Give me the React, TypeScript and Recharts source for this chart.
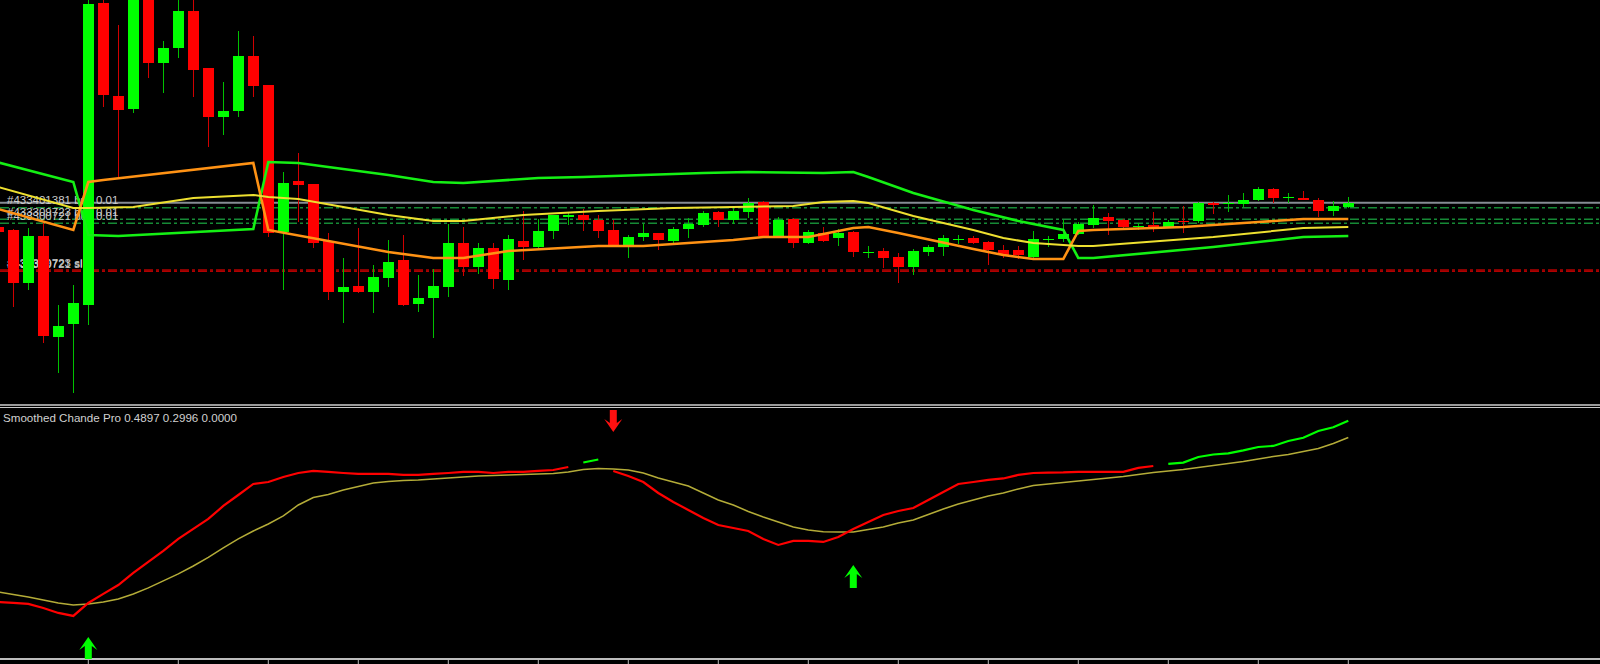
import React from "react";
import { ComposedChart, Bar, Line, XAxis, YAxis, ReferenceLine, Scatter } from "recharts";

// ---------- bars (index -1 is the partly visible first bar) ----------
const barIndex: number[] = Array.from({ length: 91 }, (_, n) => n - 1);

// prices in points
const opens = [
  178, 175, 122, 169, 68, 81, 100, 402, 309, 296, 415, 342, 357, 394, 337, 288, 294, 349, 320, 173,
  224, 221, 164, 113, 119, 113, 127, 145, 101, 107, 118, 162, 138, 157, 125, 164, 158, 174, 188, 190,
  185, 175, 160, 168, 172, 164, 176, 180, 193, 185, 193, 203, 169, 186, 162, 172, 167, 173, 152.5, 154,
  148, 138, 153, 158, 165.5, 167, 163, 155, 155, 148, 165.5, 166, 171, 180, 188, 185, 178.5, 180, 178, 184.5,
  184, 202, 201.5, 201, 205, 216, 207.5, 207, 205, 194, 198,
];
const highs = [
  180, 176, 177, 182, 100, 120, 408, 410, 380, 420, 420, 364, 405, 407, 337, 323, 374, 369, 320, 233,
  252, 221, 172, 147, 177, 140, 165, 170, 130, 136, 181, 178, 162, 162, 170, 194, 186, 190, 192, 196,
  190, 185, 170, 181, 172, 178, 187, 194, 194, 197, 207, 204, 188, 187, 175, 178, 176, 174, 159, 157,
  152, 156, 160, 170, 170, 169, 164, 160, 159, 174, 169, 185, 183, 200, 192, 186, 182, 193, 185, 199,
  203, 203, 210, 212, 218, 217, 212, 214, 207, 204, 208,
];
const lows = [
  170, 98, 115, 62, 32, 12, 80, 298, 228, 292, 327, 312, 347, 308, 258, 270, 288, 308, 168, 115,
  183, 157, 105, 82, 112, 92, 118, 99, 93, 67, 108, 129, 131, 116, 115, 145, 157, 166, 180, 174,
  167, 160, 147, 164, 155, 162, 167, 178, 178, 181, 187, 168, 168, 157, 161, 163, 159, 148, 147, 137,
  122, 130, 149, 149, 161, 161, 140, 147, 146, 146, 158, 163, 170, 177, 170, 177, 175, 173, 177, 172,
  182, 191, 193, 198, 204, 202, 202, 205, 188, 189, 197,
];
const closes = [
  173, 122, 169, 69, 79, 102, 401, 310, 295, 415, 342, 357, 394, 335, 288, 294, 349, 319, 172, 222,
  220, 162, 113, 118, 113, 128, 143, 100, 107, 119, 162, 138, 157, 126, 166, 158, 174, 190, 190, 185,
  174, 160, 168, 172, 165, 176, 181, 192, 185, 194, 202, 169, 185, 162, 173, 164, 172, 153, 153.5, 147,
  138, 154, 158, 167, 166.5, 162, 155, 150, 150, 166, 166.5, 171, 181, 187, 184, 178, 179.5, 177, 183, 183.5,
  202, 200, 202.5, 205, 216, 207, 208.5, 205, 194, 199, 202,
];

// channel lines: [bar, price]
const upperBand: [number, number][] = [
  [-1, 242.5], [4, 223], [5, 170], [7, 169], [16, 176], [17, 243], [19, 242], [25, 230], [28, 223], [30, 222],
  [35, 227], [38, 228], [44, 231], [46, 232], [49, 233], [54, 232], [56, 233], [57, 228], [60, 212], [64, 195],
  [67, 184], [70, 175], [71, 147], [72, 147], [80, 158], [86, 168], [89, 169],
];
const middleBand: [number, number][] = [
  [-1, 218], [4, 197], [5, 197], [8, 198], [12, 207], [16, 210], [17, 208], [19, 206], [25, 190], [28, 184],
  [30, 184], [34, 190], [39, 194], [44, 197], [48, 198], [52, 199], [54, 203], [56, 204], [57, 202], [60, 189],
  [64, 175], [66, 167], [68, 162], [70, 160], [71, 159], [72, 159], [80, 168], [86, 177], [89, 178],
];
const lowerBand: [number, number][] = [
  [-1, 196], [4, 175], [5, 223], [6, 225], [16, 242], [17, 175], [25, 153], [28, 147], [30, 147], [33, 154],
  [39, 159], [42, 159], [44, 161], [48, 165], [50, 168], [53, 168], [56, 177], [57, 178], [59, 172], [64, 156],
  [66, 150], [68, 146], [70, 146], [71, 174], [72, 175], [78, 178], [83, 183], [86, 186], [89, 186],
];

// horizontal price levels
const bidPrice = 202.3;
const orderLevels = [197.3, 185.7, 181.7];
const orderTickets = ["#433401381 buy 0.01", "#433309723 buy 0.01", "#433300721 buy 0.01"];
const stopLevels = [135, 133.8];
const stopTickets = ["#433309723 sl", "#433300721 sl"];

// ---------- Smoothed Chande indicator ----------
const chandeMain = [
  -1.561, -1.572, -1.583, -1.629, -1.685, -1.719, -1.572, -1.47, -1.369, -1.233, -1.108, -0.984, -0.848, -0.735, -0.622, -0.475,
  -0.351, -0.226, -0.204, -0.147, -0.102, -0.079, -0.09, -0.102, -0.113, -0.113, -0.113, -0.124, -0.124, -0.113, -0.102,
  -0.09, -0.09, -0.102, -0.09, -0.09, -0.079, -0.068, -0.034, 0.017, 0.051, -0.079, -0.136, -0.204, -0.328, -0.43,
  -0.52, -0.611, -0.69, -0.724, -0.758, -0.848, -0.916, -0.871, -0.871, -0.882, -0.826, -0.735, -0.656, -0.577, -0.532,
  -0.498, -0.407, -0.317, -0.226, -0.204, -0.181, -0.164, -0.124, -0.102, -0.098, -0.096, -0.09, -0.09, -0.09, -0.09,
  -0.045, -0.023, 0.0, 0.015, 0.079, 0.107, 0.119, 0.153, 0.192, 0.204, 0.26, 0.297, 0.373, 0.415, 0.4897,
];
const chandeSignal = [
  -1.448, -1.476, -1.504, -1.538, -1.572, -1.595, -1.583, -1.561, -1.527, -1.47, -1.402, -1.323, -1.244, -1.154, -1.057, -0.95,
  -0.848, -0.758, -0.679, -0.588, -0.464, -0.379, -0.345, -0.294, -0.254, -0.215, -0.198, -0.187, -0.181, -0.17, -0.158,
  -0.147, -0.136, -0.13, -0.124, -0.119, -0.113, -0.107, -0.09, -0.062, -0.051, -0.057, -0.068, -0.102, -0.158, -0.204,
  -0.249, -0.328, -0.407, -0.464, -0.537, -0.599, -0.656, -0.713, -0.746, -0.766, -0.769, -0.769, -0.741, -0.713, -0.667,
  -0.633, -0.571, -0.509, -0.452, -0.407, -0.362, -0.328, -0.283, -0.243, -0.226, -0.209, -0.192, -0.175, -0.158, -0.141,
  -0.119, -0.096, -0.079, -0.062, -0.04, -0.017, 0.006, 0.028, 0.057, 0.085, 0.107, 0.141, 0.175, 0.232, 0.2996,
];
const upSignals: [number, number][] = [[5, -1.957], [56, -1.142]];
const downSignals: [number, number][] = [[40, 0.362]];
const chandeLevel = 0;
const indicatorTitle = "Smoothed Chande Pro";
const indicatorReadout = ["0.4897", "0.2996", "0.0000"];
const timeTicks = [5, 11, 17, 23, 29, 35, 41, 47, 53, 59, 65, 71, 77, 83, 89];

// ---------- tables ----------
const pick = (pairs: [number, number][], i: number) => {
  const f = pairs.find((p) => p[0] === i);
  return f ? f[1] : null;
};
const priceRows = barIndex.map((i, n) => ({
  i,
  o: opens[n],
  h: highs[n],
  l: lows[n],
  c: closes[n],
  range: [lows[n], highs[n]],
  upper: pick(upperBand, i),
  middle: pick(middleBand, i),
  lower: pick(lowerBand, i),
}));
const chandeRows = barIndex.map((i, n) => ({
  i,
  bear: chandeMain[n] < chandeLevel ? chandeMain[n] : null,
  bull: chandeMain[n] >= chandeLevel ? chandeMain[n] : null,
  signal: chandeSignal[n],
}));
const upRows = upSignals.map(([i, v]) => ({ i, v }));
const downRows = downSignals.map(([i, v]) => ({ i, v }));

const X_DOMAIN: [number, number] = [-0.8867, 105.78];
const FONT = "'Liberation Sans', Arial, sans-serif";

function Candle(props: any) {
  const { x, y, width, height, payload } = props;
  if (!payload || !isFinite(x) || !isFinite(y) || !isFinite(height)) return null;
  const { o, h, l, c } = payload;
  const k = height / (h - l);
  const yAt = (v: number) => y + (h - v) * k;
  const bull = c >= o;
  const cx = Math.round(x + width / 2);
  const top = yAt(Math.max(o, c));
  const bottom = yAt(Math.min(o, c));
  return (
    <g>
      <line x1={cx + 0.5} x2={cx + 0.5} y1={y} y2={y + height} stroke={bull ? "#00c000" : "#d00000"} strokeWidth={1} />
      <rect
        x={cx - 5}
        y={Math.round(top)}
        width={11}
        height={Math.max(1, Math.round(bottom) - Math.round(top))}
        fill={bull ? "#00ff00" : "#ff0000"}
        shapeRendering="crispEdges"
      />
    </g>
  );
}

function TicketLabel(props: any) {
  const { viewBox, text } = props;
  if (!viewBox) return null;
  return (
    <text x={7} y={viewBox.y - 3.5} fill="#cccccc" fontSize={11.5} fontFamily={FONT}>
      {text}
    </text>
  );
}

function UpArrow(props: any) {
  const { cx, cy } = props;
  if (!isFinite(cx) || !isFinite(cy)) return null;
  return (
    <path
      transform={`translate(${cx},${cy})`}
      d="M0,0 L9,13 L3.5,9 L3.5,23 L-3.5,23 L-3.5,9 L-9,13 Z"
      fill="#00ff00"
    />
  );
}

function DownArrow(props: any) {
  const { cx, cy } = props;
  if (!isFinite(cx) || !isFinite(cy)) return null;
  return (
    <path
      transform={`translate(${cx},${cy})`}
      d="M0,0 L-9,-13 L-3.5,-9 L-3.5,-22 L3.5,-22 L3.5,-9 L9,-13 Z"
      fill="#ff1010"
    />
  );
}

export default function App() {
  return (
    <div style={{ position: "absolute", left: 0, top: 0, width: 1600, height: 664, background: "#000", overflow: "hidden" }}>
      <div style={{ position: "absolute", left: 0, top: 0 }}>
        <ComposedChart width={1600} height={405} data={priceRows} margin={{ top: 0, right: 0, bottom: 0, left: 0 }}>
          <XAxis dataKey="i" type="number" domain={X_DOMAIN} allowDataOverflow hide />
          <YAxis type="number" domain={[0, 405]} allowDataOverflow hide />
          <ReferenceLine y={bidPrice} stroke="#868c94" strokeWidth={2} zIndex={-60} />
          {orderLevels.map((lv, n) => (
            <ReferenceLine
              key={"o" + n}
              y={lv}
              stroke="#168a36"
              strokeWidth={1.6}
              strokeDasharray="9 3 3 3"
              zIndex={-60}
              label={<TicketLabel text={orderTickets[n]} />}
            />
          ))}
          {stopLevels.map((lv, n) => (
            <ReferenceLine
              key={"s" + n}
              y={lv}
              stroke="#b00000"
              strokeWidth={1.6}
              strokeDasharray="9 3 3 3"
              zIndex={-60}
              label={<TicketLabel text={stopTickets[n]} />}
            />
          ))}
          <Bar dataKey="range" barSize={11} shape={(p: any) => <Candle {...p} />} isAnimationActive={false} />
          <Line type="linear" dataKey="upper" stroke="#14f014" strokeWidth={2.6} dot={false} connectNulls isAnimationActive={false} />
          <Line type="linear" dataKey="lower" stroke="#ff9214" strokeWidth={2.6} dot={false} connectNulls isAnimationActive={false} />
          <Line type="linear" dataKey="middle" stroke="#eee030" strokeWidth={2} dot={false} connectNulls isAnimationActive={false} />
        </ComposedChart>
      </div>

      <div style={{ position: "absolute", left: 0, top: 404, width: 1600, height: 2, background: "#9a9a9a" }} />
      <div style={{ position: "absolute", left: 0, top: 407, width: 1600, height: 1, background: "#c8c8c8" }} />

      <div style={{ position: "absolute", left: 0, top: 408 }}>
        <ComposedChart width={1600} height={256} data={chandeRows} margin={{ top: 0, right: 0, bottom: 0, left: 0 }}>
          <XAxis
            dataKey="i"
            type="number"
            domain={X_DOMAIN}
            allowDataOverflow
            ticks={timeTicks}
            interval={0}
            height={5}
            tickSize={5}
            tick={{ fill: "none", fontSize: 1 }}
            tickFormatter={() => ""}
            axisLine={{ stroke: "#bcbcbc", strokeWidth: 2 }}
            tickLine={{ stroke: "#bcbcbc" }}
          />
          <YAxis type="number" domain={[-2.206, 0.633]} allowDataOverflow hide />
          <ReferenceLine
            segment={[
              { x: -1, y: chandeLevel },
              { x: 89, y: chandeLevel },
            ]}
            stroke="#c8c8c8"
            strokeDasharray="3 3"
            strokeWidth={1}
          />
          <Line type="linear" dataKey="signal" stroke="#b4ac38" strokeWidth={1.5} dot={false} isAnimationActive={false} />
          <Line type="linear" dataKey="bear" stroke="#ff0000" strokeWidth={2.2} dot={false} connectNulls={false} isAnimationActive={false} />
          <Line type="linear" dataKey="bull" stroke="#00ff00" strokeWidth={2.2} dot={false} connectNulls={false} isAnimationActive={false} />
          <Scatter data={upRows} dataKey="v" shape={(p: any) => <UpArrow {...p} />} isAnimationActive={false} />
          <Scatter data={downRows} dataKey="v" shape={(p: any) => <DownArrow {...p} />} isAnimationActive={false} />
        </ComposedChart>
      </div>

      <svg width={1600} height={664} style={{ position: "absolute", left: 0, top: 0, pointerEvents: "none" }}>
        <text x={3} y={421.5} fill="#d0d0d0" fontSize={11.6} fontFamily={FONT}>
          {indicatorTitle + " " + indicatorReadout.join(" ")}
        </text>
      </svg>
    </div>
  );
}
